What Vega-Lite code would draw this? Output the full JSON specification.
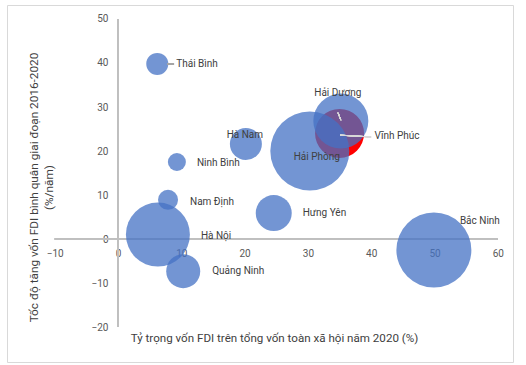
{
  "$schema": "https://vega.github.io/schema/vega-lite/v6.json",
  "width": 506,
  "height": 357,
  "autosize": {"type": "none"},
  "padding": {"left": 7, "top": 5, "right": 13, "bottom": 3},
  "background": "white",
  "config": {
    "view": {"stroke": "#d9d9d9", "strokeWidth": 1},
    "font": "Roboto",
    "text": {"font": "Roboto", "fontSize": 10, "color": "#404040"}
  },
  "data": {
    "values": [
      {"tinh": "Vĩnh Phúc", "ty_trong": 35.0, "toc_do": 24.0, "quy_mo": 600, "nhom": "Vĩnh Phúc"},
      {"tinh": "Hải Phòng", "ty_trong": 30.3, "toc_do": 20.0, "quy_mo": 1560, "nhom": "Khác"},
      {"tinh": "Hải Dương", "ty_trong": 35.2, "toc_do": 26.8, "quy_mo": 756, "nhom": "Khác"},
      {"tinh": "Thái Bình", "ty_trong": 6.2, "toc_do": 39.8, "quy_mo": 121, "nhom": "Khác"},
      {"tinh": "Hà Nam", "ty_trong": 20.2, "toc_do": 21.6, "quy_mo": 256, "nhom": "Khác"},
      {"tinh": "Ninh Bình", "ty_trong": 9.3, "toc_do": 17.5, "quy_mo": 81, "nhom": "Khác"},
      {"tinh": "Nam Định", "ty_trong": 7.9, "toc_do": 8.9, "quy_mo": 100, "nhom": "Khác"},
      {"tinh": "Hà Nội", "ty_trong": 6.3, "toc_do": 1.0, "quy_mo": 1024, "nhom": "Khác"},
      {"tinh": "Quảng Ninh", "ty_trong": 10.3, "toc_do": -7.3, "quy_mo": 289, "nhom": "Khác"},
      {"tinh": "Hưng Yên", "ty_trong": 24.6, "toc_do": 5.9, "quy_mo": 324, "nhom": "Khác"},
      {"tinh": "Bắc Ninh", "ty_trong": 49.9, "toc_do": -2.5, "quy_mo": 1406, "nhom": "Khác"}
    ]
  },
  "encoding": {
    "x": {
      "field": "ty_trong", "type": "quantitative",
      "scale": {"domain": [-17.54, 62.4], "nice": false, "zero": false},
      "axis": {
        "orient": "bottom", "offset": -123, "domain": false, "ticks": false, "tickSize": 0, "grid": false,
        "values": [-10, 0, 10, 20, 30, 40, 50, 60],
        "labelPadding": 9, "labelFontSize": 10, "labelColor": "#595959", "labelFont": "Roboto",
        "title": "Tỷ trọng vốn FDI trên tổng vốn toàn xã hội năm 2020 (%)",
        "titleX": 267, "titleY": 99, "titleAlign": "center", "titleBaseline": "middle",
        "titleFont": "Roboto", "titleFontSize": 11.6, "titleFontWeight": "normal", "titleColor": "#404040"
      }
    },
    "y": {
      "field": "toc_do", "type": "quantitative",
      "scale": {"domain": [-27.95, 53.18], "nice": false, "zero": false},
      "axis": {
        "orient": "left", "offset": -111, "domain": false, "ticks": false, "tickSize": 0, "grid": false,
        "values": [-20, -10, 0, 10, 20, 30, 40, 50],
        "labelPadding": 10, "labelFontSize": 10, "labelColor": "#595959", "labelFont": "Roboto",
        "title": ["Tốc độ tăng vốn FDI bình quân giai đoạn 2016-2020", "(%/năm)"],
        "titleX": -85, "titleY": 182, "titleAlign": "center", "titleBaseline": "middle", "titleAngle": -90,
        "titleLineHeight": 15,
        "titleFont": "Roboto", "titleFontSize": 11.8, "titleFontWeight": "normal", "titleColor": "#404040"
      }
    }
  },
  "layer": [
    {
      "mark": {"type": "rule", "color": "#bfbfbf", "strokeWidth": 1},
      "encoding": {"y": {"datum": 0}, "x": {"datum": -10}, "x2": {"datum": 60}}
    },
    {
      "mark": {"type": "rule", "color": "#bfbfbf", "strokeWidth": 1},
      "encoding": {"x": {"datum": 0}, "y": {"datum": -20}, "y2": {"datum": 50}}
    },
    {
      "mark": {"type": "circle", "strokeWidth": 0},
      "encoding": {
        "size": {"field": "quy_mo", "type": "quantitative", "scale": {"domain": [0, 1600], "range": [0, 6400]}, "legend": null},
        "color": {"field": "nhom", "type": "nominal", "scale": {"domain": ["Khác", "Vĩnh Phúc"], "range": ["#4472C4", "#FF0000"]}, "legend": null},
        "opacity": {"field": "nhom", "type": "nominal", "scale": {"domain": ["Khác", "Vĩnh Phúc"], "range": [0.75, 1]}, "legend": null}
      }
    },
    {
      "mark": {"type": "rule", "color": "#a6a6a6", "strokeWidth": 1},
      "encoding": {"x": {"datum": 7.74}, "x2": {"datum": 8.85}, "y": {"datum": 39.8}, "y2": {"datum": 39.8}}
    },
    {
      "mark": {"type": "rule", "color": "#d9d9d9", "strokeWidth": 1},
      "encoding": {"x": {"datum": 34.76}, "x2": {"datum": 35.2}, "y": {"datum": 28.7}, "y2": {"datum": 27.0}}
    },
    {
      "mark": {"type": "rule", "color": "#d9d9d9", "strokeWidth": 1},
      "encoding": {"x": {"datum": 35.07}, "x2": {"datum": 39.97}, "y": {"datum": 23.6}, "y2": {"datum": 23.2}}
    },
    {"transform": [{"filter": "datum.tinh === 'Thái Bình'"}], "mark": {"type": "text", "align": "left", "baseline": "middle", "dx": 19, "dy": 0}, "encoding": {"text": {"field": "tinh"}}},
    {"transform": [{"filter": "datum.tinh === 'Hải Dương'"}], "mark": {"type": "text", "align": "center", "baseline": "middle", "dx": -3, "dy": -28}, "encoding": {"text": {"field": "tinh"}}},
    {"transform": [{"filter": "datum.tinh === 'Vĩnh Phúc'"}], "mark": {"type": "text", "align": "left", "baseline": "middle", "dx": 35, "dy": 3}, "encoding": {"text": {"field": "tinh"}}},
    {"transform": [{"filter": "datum.tinh === 'Hải Phòng'"}], "mark": {"type": "text", "align": "center", "baseline": "middle", "dx": 7, "dy": 6}, "encoding": {"text": {"field": "tinh"}}},
    {"transform": [{"filter": "datum.tinh === 'Hà Nam'"}], "mark": {"type": "text", "align": "center", "baseline": "middle", "dx": -1, "dy": -9}, "encoding": {"text": {"field": "tinh"}}},
    {"transform": [{"filter": "datum.tinh === 'Ninh Bình'"}], "mark": {"type": "text", "align": "left", "baseline": "middle", "dx": 20, "dy": 1}, "encoding": {"text": {"field": "tinh"}}},
    {"transform": [{"filter": "datum.tinh === 'Nam Định'"}], "mark": {"type": "text", "align": "left", "baseline": "middle", "dx": 22, "dy": 2}, "encoding": {"text": {"field": "tinh"}}},
    {"transform": [{"filter": "datum.tinh === 'Hà Nội'"}], "mark": {"type": "text", "align": "left", "baseline": "middle", "dx": 43, "dy": 1}, "encoding": {"text": {"field": "tinh"}}},
    {"transform": [{"filter": "datum.tinh === 'Quảng Ninh'"}], "mark": {"type": "text", "align": "left", "baseline": "middle", "dx": 29, "dy": 0}, "encoding": {"text": {"field": "tinh"}}},
    {"transform": [{"filter": "datum.tinh === 'Hưng Yên'"}], "mark": {"type": "text", "align": "left", "baseline": "middle", "dx": 29, "dy": 0}, "encoding": {"text": {"field": "tinh"}}},
    {"transform": [{"filter": "datum.tinh === 'Bắc Ninh'"}], "mark": {"type": "text", "align": "left", "baseline": "middle", "dx": 26, "dy": -29}, "encoding": {"text": {"field": "tinh"}}}
  ]
}
